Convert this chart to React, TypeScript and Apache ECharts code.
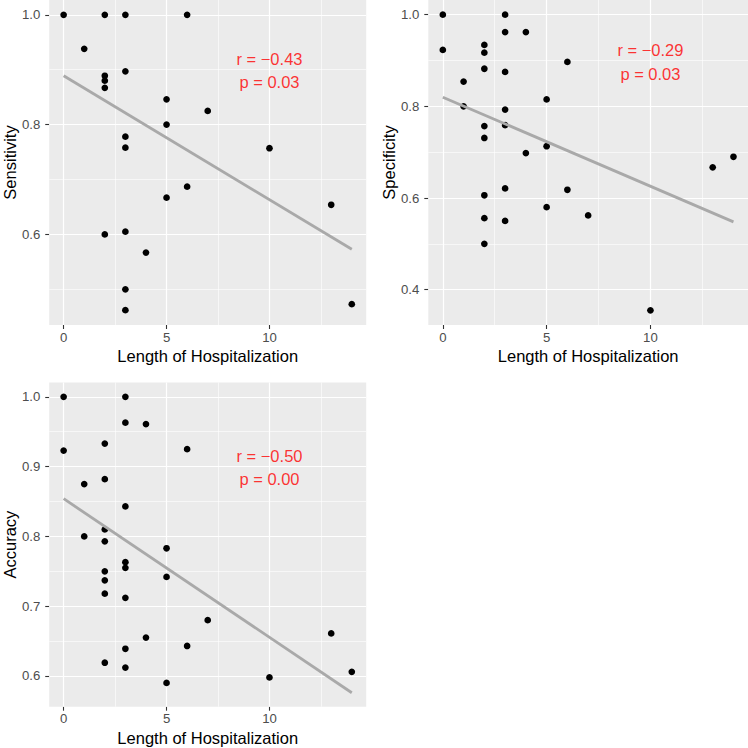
import React, { useEffect, useRef } from "react";
import * as echarts from "echarts";

// ---------- data ----------
const sensHosp = [0, 2, 3, 6, 1, 3, 2, 2, 2, 5, 7, 5, 3, 3, 10, 6, 5, 13, 2, 3, 4, 3, 3, 14];
const sensVals = [1.0, 1.0, 1.0, 1.0, 0.938, 0.897, 0.889, 0.88, 0.867, 0.846, 0.825, 0.8, 0.778, 0.758, 0.757, 0.687, 0.667, 0.654, 0.6, 0.605, 0.567, 0.5, 0.462, 0.473];

const specHosp = [0, 0, 3, 3, 4, 2, 2, 2, 3, 6, 1, 1, 5, 3, 2, 3, 2, 5, 4, 13, 14, 3, 6, 2, 2, 3, 5, 7, 2, 10];
const specVals = [1.0, 0.923, 1.0, 0.962, 0.962, 0.934, 0.917, 0.882, 0.875, 0.897, 0.854, 0.8, 0.815, 0.793, 0.757, 0.759, 0.731, 0.713, 0.698, 0.667, 0.69, 0.621, 0.618, 0.606, 0.556, 0.55, 0.58, 0.562, 0.5, 0.355];

const accHosp = [0, 3, 3, 4, 0, 2, 6, 1, 2, 3, 1, 2, 2, 5, 3, 3, 2, 5, 2, 2, 3, 7, 13, 4, 6, 3, 2, 3, 10, 14, 5];
const accVals = [1.0, 1.0, 0.963, 0.961, 0.923, 0.933, 0.925, 0.875, 0.882, 0.843, 0.8, 0.81, 0.793, 0.783, 0.763, 0.755, 0.75, 0.742, 0.737, 0.718, 0.712, 0.68, 0.661, 0.655, 0.643, 0.639, 0.619, 0.612, 0.598, 0.606, 0.59];

// regression line end points [x, y]
const sensFit = [[0, 0.889], [14, 0.573]];
const specFit = [[0, 0.82], [14, 0.548]];
const accFit = [[0, 0.854], [14, 0.576]];

// annotations [x, y, text]
const sensAnnot = [[10, 0.92, "r = \u22120.43"], [10, 0.877, "p = 0.03"]];
const specAnnot = [[10, 0.924, "r = \u22120.29"], [10, 0.8715, "p = 0.03"]];
const accAnnot = [[10, 0.915, "r = \u22120.50"], [10, 0.882, "p = 0.00"]];

// axes
const xRange = [-0.7, 14.7];
const xTicks = [0, 5, 10];
const xMinor = [2.5, 7.5, 12.5];
const sensRange = [0.435, 1.027];
const sensTicks = [0.6, 0.8, 1.0];
const sensMinor = [0.5, 0.7, 0.9];
const specRange = [0.323, 1.032];
const specTicks = [0.4, 0.6, 0.8, 1.0];
const specMinor = [0.5, 0.7, 0.9];
const accRange = [0.556, 1.0205];
const accTicks = [0.6, 0.7, 0.8, 0.9, 1.0];
const accMinor = [0.65, 0.75, 0.85, 0.95];

const xTitle = "Length of Hospitalization";
const yTitles = ["Sensitivity", "Specificity", "Accuracy"];

const FONT = '"Liberation Sans", Arial, Helvetica, sans-serif';

function buildOption() {
  const panels = [
    { xs: sensHosp, ys: sensVals, fit: sensFit, annot: sensAnnot, range: sensRange, ticks: sensTicks, minor: sensMinor },
    { xs: specHosp, ys: specVals, fit: specFit, annot: specAnnot, range: specRange, ticks: specTicks, minor: specMinor },
    { xs: accHosp, ys: accVals, fit: accFit, annot: accAnnot, range: accRange, ticks: accTicks, minor: accMinor },
  ];
  const grids = [
    { left: 46.7, top: 0, width: 319.5, height: 325 },
    { left: 428.3, top: 0, width: 319.7, height: 325 },
    { left: 46.7, top: 382.5, width: 319.5, height: 324.2 },
  ].map((g) => ({ ...g, show: true, backgroundColor: "#EBEBEB", borderWidth: 0, containLabel: false }));

  const xAxis: any[] = [];
  const yAxis: any[] = [];
  const series: any[] = [];

  panels.forEach((p, i) => {
    xAxis.push({
      type: "value",
      gridIndex: i,
      min: xRange[0],
      max: xRange[1],
      axisLine: { show: false, onZero: false },
      axisTick: { show: true, length: 4, customValues: xTicks, lineStyle: { color: "#333333", width: 1.1 } },
      axisLabel: { customValues: xTicks, color: "#4D4D4D", fontSize: 13.2, fontFamily: FONT, margin: 5.5 },
      splitLine: { show: false },
      name: xTitle,
      nameLocation: "middle",
      nameGap: 22.5,
      nameTextStyle: { color: "#000000", fontSize: 16.5, fontFamily: FONT },
    });
    yAxis.push({
      type: "value",
      gridIndex: i,
      min: p.range[0],
      max: p.range[1],
      axisLine: { show: false, onZero: false },
      axisTick: { show: true, length: 4, customValues: p.ticks, lineStyle: { color: "#333333", width: 1.1 } },
      axisLabel: {
        customValues: p.ticks,
        color: "#4D4D4D",
        fontSize: 13.2,
        fontFamily: FONT,
        margin: 9,
        formatter: (v: number) => v.toFixed(1),
      },
      splitLine: { show: false },
      name: yTitles[i],
      nameLocation: "middle",
      nameGap: 30,
      nameTextStyle: { color: "#000000", fontSize: 16.5, fontFamily: FONT },
    });

    const major = { color: "#FFFFFF", width: 1.2, type: "solid" };
    const minorStyle = { color: "#FFFFFF", width: 0.6, type: "solid" };
    const mlData: any[] = [
      ...xMinor.map((v) => ({ xAxis: v, lineStyle: minorStyle })),
      ...p.minor.map((v) => ({ yAxis: v, lineStyle: minorStyle })),
      ...xTicks.map((v) => ({ xAxis: v, lineStyle: major })),
      ...p.ticks.map((v) => ({ yAxis: v, lineStyle: major })),
    ];
    series.push({
      type: "line",
      xAxisIndex: i,
      yAxisIndex: i,
      data: [],
      z: 1,
      silent: true,
      markLine: {
        z: 1,
        zlevel: 0,
        silent: true,
        symbol: ["none", "none"],
        label: { show: false },
        emphasis: { disabled: true },
        data: mlData,
      },
    });
    series.push({
      type: "scatter",
      xAxisIndex: i,
      yAxisIndex: i,
      data: p.xs.map((x, k) => [x, p.ys[k]]),
      symbolSize: 6.7,
      itemStyle: { color: "#000000", opacity: 1 },
      z: 3,
      silent: true,
    });
    series.push({
      type: "line",
      xAxisIndex: i,
      yAxisIndex: i,
      data: p.fit,
      symbol: "none",
      lineStyle: { color: "#A9A9A9", width: 2.8 },
      z: 4,
      silent: true,
    });
    series.push({
      type: "scatter",
      xAxisIndex: i,
      yAxisIndex: i,
      data: p.annot,
      symbolSize: 1,
      itemStyle: { color: "rgba(0,0,0,0)" },
      z: 6,
      silent: true,
      label: {
        show: true,
        position: "inside",
        formatter: (q: any) => q.data[2],
        color: "#FF0000",
        fontSize: 16.5,
        fontFamily: FONT,
      },
    });
  });

  return {
    animation: false,
    backgroundColor: "#FFFFFF",
    textStyle: { fontFamily: FONT },
    grid: grids,
    xAxis,
    yAxis,
    series,
  };
}

export default function App() {
  const ref = useRef<HTMLDivElement>(null);
  useEffect(() => {
    if (!ref.current) return;
    const chart = echarts.init(ref.current, undefined, { renderer: "svg" });
    chart.setOption(buildOption() as any);
    return () => chart.dispose();
  }, []);
  return (
    <div
      ref={ref}
      style={{ position: "absolute", left: 0, top: 0, width: 748, height: 748, background: "#FFFFFF" }}
    />
  );
}
